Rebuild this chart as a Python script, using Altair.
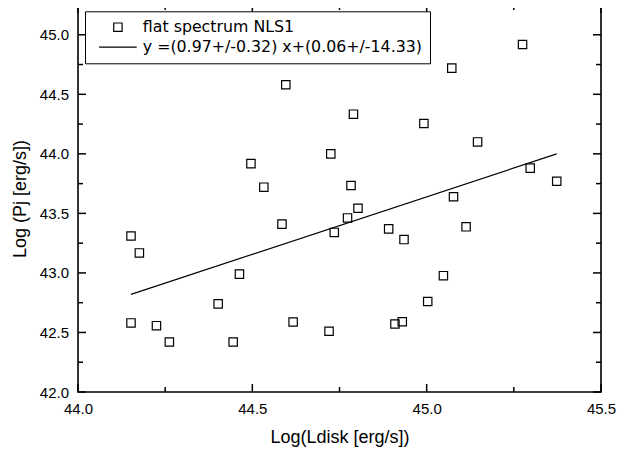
import altair as alt
import pandas as pd

# Data
ldisk = [44.152, 44.176, 44.152, 44.225, 44.262, 44.402, 44.445, 44.463, 44.617,
         44.585, 44.496, 44.533, 44.596, 45.275, 45.072, 44.790, 44.992, 44.725,
         45.146, 45.297, 45.373, 44.783, 45.077, 44.803, 44.773, 44.891, 45.113,
         44.735, 44.935, 45.048, 45.003, 44.930, 44.909, 44.720]
pj = [43.31, 43.168, 42.58, 42.557, 42.42, 42.74, 42.42, 42.99, 42.588,
      43.41, 43.918, 43.72, 44.58, 44.918, 44.72, 44.333, 44.255, 44.0,
      44.10, 43.88, 43.77, 43.734, 43.64, 43.543, 43.462, 43.37, 43.387,
      43.34, 43.28, 42.977, 42.76, 42.59, 42.571, 42.51]

fit_x = [44.152, 45.373]
fit_y = [42.82, 44.00]

series_names = ["flat spectrum NLS1", "y =(0.97+/-0.32) x+(0.06+/-14.33)"]

x_major = [44.0, 44.5, 45.0, 45.5]
x_minor = [44.25, 44.75, 45.25]
y_major = [42.0, 42.5, 43.0, 43.5, 44.0, 44.5, 45.0]
y_minor = [42.25, 42.75, 43.25, 43.75, 44.25, 44.75]

x_domain = [44.0, 45.5]
y_domain = [42.0, 45.25]

W, H = 523, 387
FONT = "Liberation Sans"

pts = pd.DataFrame({"x": ldisk, "y": pj, "series": series_names[0]})
fit = pd.DataFrame({"x": fit_x, "y": fit_y})
xmaj = pd.DataFrame({"x": x_major})
xmin = pd.DataFrame({"x": x_minor})
ymaj = pd.DataFrame({"y": y_major})
ymin = pd.DataFrame({"y": y_minor})

X = alt.X("x:Q", scale=alt.Scale(domain=x_domain, nice=False, zero=False),
          axis=alt.Axis(title="Log(Ldisk [erg/s])", values=x_major, format=".1f",
                        ticks=False, tickSize=0, domain=False, grid=False,
                        labelFlush=False, labelOverlap=False, labelPadding=9,
                        labelFont=FONT, labelFontSize=15, labelColor="black",
                        titleFont=FONT, titleFontSize=18, titleFontWeight="normal",
                        titleColor="black", titleY=50.5, titleBaseline="alphabetic"))
Y = alt.Y("y:Q", scale=alt.Scale(domain=y_domain, nice=False, zero=False),
          axis=alt.Axis(title="Log (Pj [erg/s])", values=y_major, format=".1f",
                        ticks=False, tickSize=0, domain=False, grid=False,
                        labelFlush=False, labelOverlap=False, labelPadding=9.5,
                        labelFont=FONT, labelFontSize=15, labelColor="black",
                        titleFont=FONT, titleFontSize=18, titleFontWeight="normal",
                        titleColor="black", titleX=-52.3, titleY=193.5,
                        titleAngle=270, titleBaseline="alphabetic"))

# legend line symbol: a short horizontal stroke centred like the legend square
line_symbol = "M-4.5,0H4.5"

leg = alt.Legend(title=None, orient="none", legendX=7, legendY=6.3,
                 labelFont="DejaVu Sans", labelFontSize=15.8, labelColor="black",
                 labelLimit=500, strokeColor="black", fillColor="white",
                 padding=8, rowPadding=3, labelOffset=17, symbolOffset=17,
                 symbolSize=70, symbolStrokeWidth=1.2, symbolStrokeColor="black",
                 symbolFillColor="transparent")

points = alt.Chart(pts).mark_point(filled=False, color="black", strokeWidth=1.2,
                                   opacity=1, size=70).encode(
    x=X, y=Y,
    shape=alt.Shape("series:N", scale=alt.Scale(domain=series_names,
                                                range=["square", line_symbol]), legend=leg),
)

line = alt.Chart(fit).mark_line(color="black", strokeWidth=1.2).encode(x=X, y=Y)

tick_style = dict(color="black", strokeWidth=1.5)
xb_major = alt.Chart(xmaj).mark_rule(**tick_style).encode(x=X, y=alt.value(H), y2=alt.value(H - 8))
xt_major = alt.Chart(xmaj).mark_rule(**tick_style).encode(x=X, y=alt.value(0), y2=alt.value(8))
xb_minor = alt.Chart(xmin).mark_rule(**tick_style).encode(x=X, y=alt.value(H), y2=alt.value(H - 5))
xt_minor = alt.Chart(xmin).mark_rule(**tick_style).encode(x=X, y=alt.value(0), y2=alt.value(5))
yl_major = alt.Chart(ymaj).mark_rule(**tick_style).encode(y=Y, x=alt.value(0), x2=alt.value(8))
yr_major = alt.Chart(ymaj).mark_rule(**tick_style).encode(y=Y, x=alt.value(W), x2=alt.value(W - 8))
yl_minor = alt.Chart(ymin).mark_rule(**tick_style).encode(y=Y, x=alt.value(0), x2=alt.value(5))
yr_minor = alt.Chart(ymin).mark_rule(**tick_style).encode(y=Y, x=alt.value(W), x2=alt.value(W - 5))

chart = alt.layer(
    xb_major, xt_major, xb_minor, xt_minor, yl_major, yr_major, yl_minor, yr_minor,
    line, points,
).properties(
    width=W, height=H,
    autosize=alt.AutoSizeParams(type="none"),
    padding={"left": 70, "top": -3, "right": 20, "bottom": 62},
    background="white",
).configure_view(
    stroke="black", strokeWidth=1.6
)

chart.save("out.html", embed_options={"renderer": "svg", "actions": False})
